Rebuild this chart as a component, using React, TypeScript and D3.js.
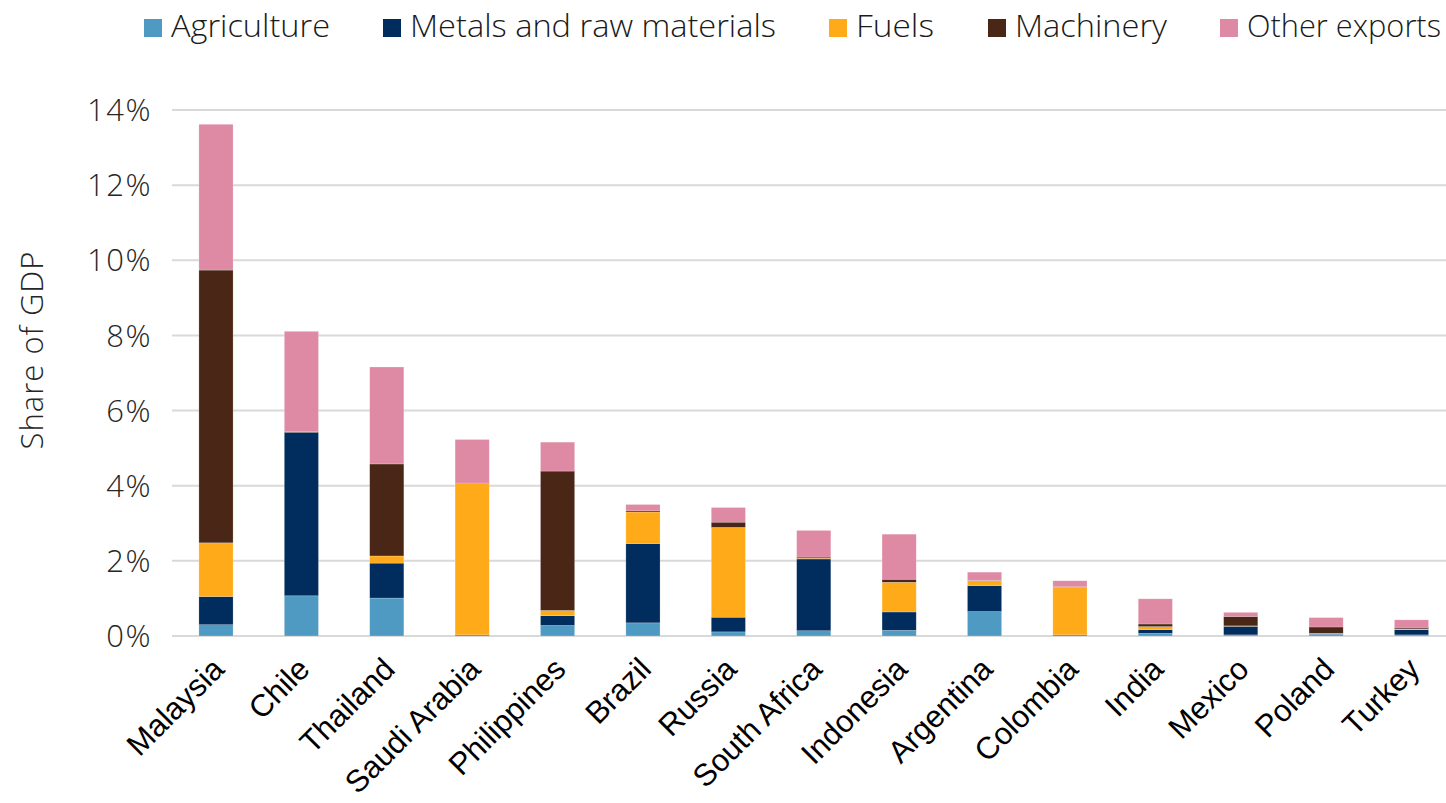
import React from "react";
import * as d3 from "d3";

const categories = ["Malaysia", "Chile", "Thailand", "Saudi Arabia", "Philippines", "Brazil", "Russia", "South Africa", "Indonesia", "Argentina", "Colombia", "India", "Mexico", "Poland", "Turkey"];
const seriesNames = ["Agriculture", "Metals and raw materials", "Fuels", "Machinery", "Other exports"];
const agriculture = [0.30, 1.07, 1.01, 0.01, 0.28, 0.35, 0.11, 0.14, 0.15, 0.65, 0.01, 0.07, 0.03, 0.05, 0.03];
const metals = [0.75, 4.35, 0.93, 0.02, 0.26, 2.11, 0.39, 1.91, 0.49, 0.69, 0.02, 0.10, 0.23, 0.01, 0.14];
const fuels = [1.43, 0.00, 0.19, 4.03, 0.14, 0.84, 2.39, 0.02, 0.79, 0.13, 1.27, 0.08, 0.01, 0.01, 0.02];
const machinery = [7.26, 0.02, 2.45, 0.01, 3.71, 0.03, 0.14, 0.03, 0.08, 0.01, 0.01, 0.07, 0.25, 0.17, 0.04];
const otherExports = [3.88, 2.67, 2.58, 1.16, 0.77, 0.17, 0.39, 0.71, 1.20, 0.22, 0.16, 0.67, 0.11, 0.25, 0.20];
const yTicks = [0, 2, 4, 6, 8, 10, 12, 14];
const colors = ["#4F9AC2", "#002D5E", "#FFAB19", "#4A2616", "#DE8AA4"];

const W = 1446;
const H = 803;

export default function App() {
  const seriesValues = [agriculture, metals, fuels, machinery, otherExports];
  const rows = categories.map((c, i) => {
    const r: any = { cat: c };
    seriesNames.forEach((s, k) => (r[s] = seriesValues[k][i]));
    return r;
  });
  const stack = d3.stack<any>().keys(seriesNames)(rows);

  const x = d3.scaleBand<string>().domain(categories).range([173.3, 1454.2]).paddingInner(0.6).paddingOuter(0.3);
  const y = d3.scaleLinear().domain([0, 14]).range([636, 110]);

  const legendX = [144, 383, 829, 988, 1220];
  const legendW = [159, 366, 78, 152, 194];
  const lightFont = "'Open Sans', Roboto, 'DejaVu Sans', sans-serif";

  return (
    <svg width={W} height={H} style={{ position: "absolute", left: 0, top: 0, background: "#fff" }}>
      <g>
        {yTicks.map((t) => (
          <line key={t} x1={172} x2={W} y1={y(t)} y2={y(t)} stroke="#D9D9D9" strokeWidth={2} />
        ))}
        {yTicks.map((t) => (
          <text key={"l" + t} x={152} y={y(t)} dy="0.36em" textAnchor="end" fontFamily={lightFont} fontWeight={300} fontSize={31} letterSpacing={1.5} fill="#262626">
            {t + "%"}
          </text>
        ))}
        <text transform={`translate(43,350) rotate(-90)`} textAnchor="middle" fontFamily={lightFont} fontWeight={300} fontSize={31} letterSpacing={1} fill="#262626">
          Share of GDP
        </text>
      </g>
      <g>
        {stack.map((layer, k) => (
          <g key={layer.key} fill={colors[k]}>
            {layer.map((d, i) => (
              <rect
                key={i}
                x={x(categories[i])}
                width={x.bandwidth()}
                y={y(d[1])}
                height={Math.max(0, y(d[0]) - y(d[1]))}
                stroke="#ffffff"
                strokeOpacity={0.35}
                strokeWidth={0.6}
              />
            ))}
          </g>
        ))}
      </g>
      <g>
        {categories.map((c) => (
          <text
            key={c}
            transform={`translate(${(x(c) as number) + x.bandwidth() / 2 + 10},671) rotate(-45)`}
            textAnchor="end"
            fontFamily="'Liberation Sans', Arial, sans-serif"
            fontSize={31}
            fill="#000"
          >
            {c}
          </text>
        ))}
      </g>
      <g>
        {seriesNames.map((s, k) => (
          <g key={s}>
            <rect x={legendX[k]} y={19} width={18} height={18} fill={colors[k]} />
            <text
              x={legendX[k] + 27}
              y={37}
              fontFamily={lightFont}
              fontWeight={300}
              fontSize={31}
              fill="#1a1a1a"
              textLength={legendW[k]}
              lengthAdjust="spacingAndGlyphs"
            >
              {s}
            </text>
          </g>
        ))}
      </g>
    </svg>
  );
}
